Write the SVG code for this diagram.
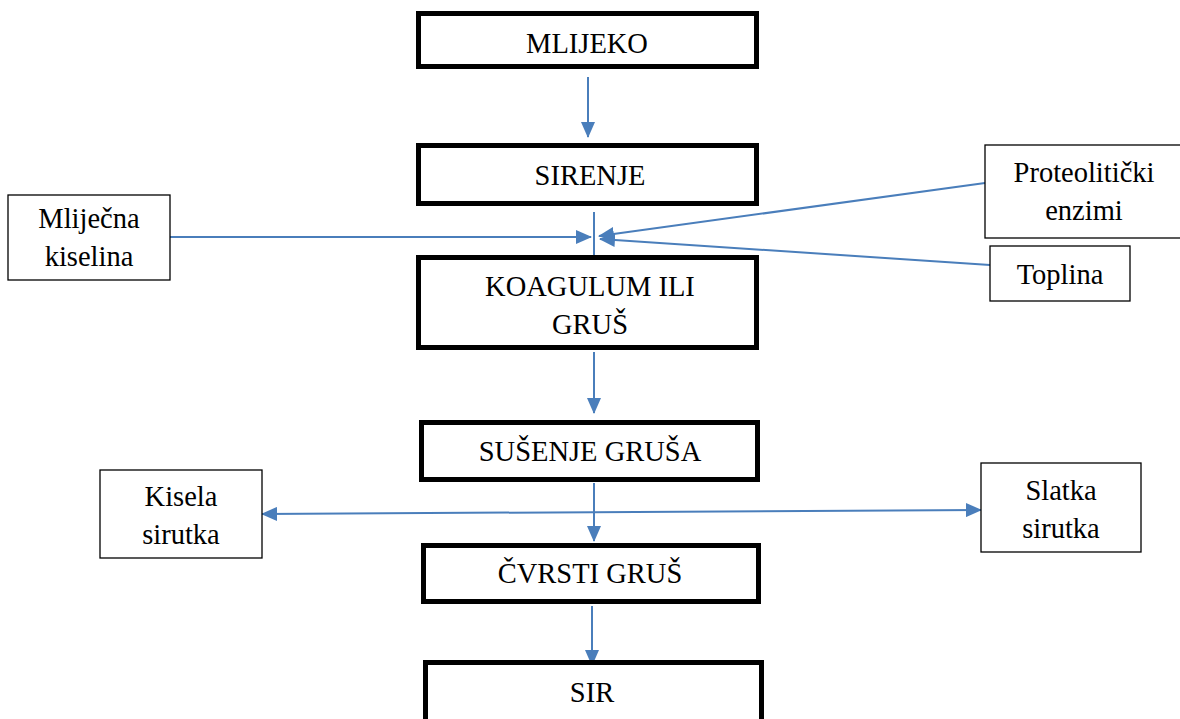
<svg xmlns="http://www.w3.org/2000/svg" width="1180" height="719" viewBox="0 0 1180 719">
<style>
.main rect{fill:#fff;stroke:#000;stroke-width:5}
.side rect{fill:#fff;stroke:#000;stroke-width:1.3}
text{font-size:28.5px;fill:#000;text-anchor:middle}
.conn line{stroke:#4a7ebb;stroke-width:2;fill:none}
</style>
<defs>
<marker id="ah" markerUnits="userSpaceOnUse" markerWidth="16" markerHeight="14" refX="15" refY="7" orient="auto-start-reverse">
<path d="M0,0 L16,7 L0,14 Z" fill="#4a7ebb"/>
</marker>
</defs>
<g class="conn">
<line x1="588" y1="77" x2="588" y2="137" marker-end="url(#ah)"/>
<line x1="594" y1="212" x2="594" y2="272" marker-end="url(#ah)"/>
<line x1="170" y1="237" x2="591" y2="237" marker-end="url(#ah)"/>
<line x1="985" y1="183" x2="599" y2="236" marker-end="url(#ah)"/>
<line x1="990" y1="265" x2="600" y2="239" marker-end="url(#ah)"/>
<line x1="594" y1="352" x2="594" y2="413" marker-end="url(#ah)"/>
<line x1="594" y1="483" x2="594" y2="541" marker-end="url(#ah)"/>
<line x1="262" y1="514" x2="981" y2="510" marker-start="url(#ah)" marker-end="url(#ah)"/>
<line x1="592" y1="606" x2="592" y2="665" marker-end="url(#ah)"/>
</g>
<g font-family="Liberation Serif, serif">
<g id="mlijeko" class="main"><rect x="418.5" y="13.5" width="338" height="53"/><text x="587" y="53">MLIJEKO</text></g>
<g id="sirenje" class="main"><rect x="418.5" y="145.5" width="338" height="58"/><text x="590" y="185">SIRENJE</text></g>
<g id="koagulum" class="main"><rect x="418.5" y="257.5" width="338" height="90"/><text x="590" y="296">KOAGULUM ILI</text><text x="590" y="334">GRUŠ</text></g>
<g id="susenje" class="main"><rect x="421.5" y="422.5" width="336" height="57"/><text x="590" y="461">SUŠENJE GRUŠA</text></g>
<g id="cvrsti" class="main"><rect x="423.5" y="545.5" width="335" height="56"/><text x="590" y="583">ČVRSTI GRUŠ</text></g>
<g id="sir" class="main"><rect x="425.5" y="662.5" width="336" height="70"/><text x="592" y="702">SIR</text></g>
<g id="mlijecna" class="side"><rect x="8" y="195" width="162" height="85"/><text x="89" y="228">Mliječna</text><text x="89" y="266">kiselina</text></g>
<g id="proteoliticki" class="side"><rect x="985" y="145" width="198" height="93"/><text x="1084" y="182">Proteolitički</text><text x="1084" y="220">enzimi</text></g>
<g id="toplina" class="side"><rect x="990" y="246" width="140" height="55"/><text x="1060" y="284">Toplina</text></g>
<g id="kisela" class="side"><rect x="100" y="470" width="162" height="88"/><text x="181" y="506">Kisela</text><text x="181" y="544">sirutka</text></g>
<g id="slatka" class="side"><rect x="981" y="463" width="160" height="89"/><text x="1061" y="500">Slatka</text><text x="1061" y="538">sirutka</text></g>
</g>
</svg>
